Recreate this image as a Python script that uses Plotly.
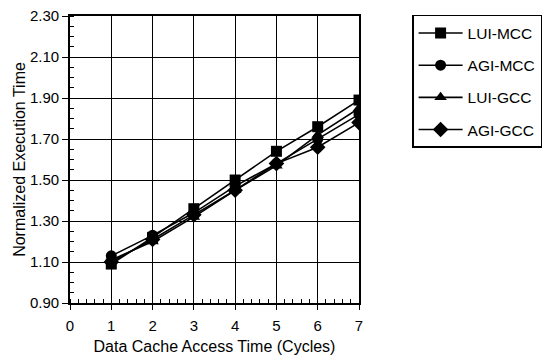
import plotly.graph_objects as go

cycles = [1, 2, 3, 4, 5, 6, 7]
series_names = ["LUI-MCC", "AGI-MCC", "LUI-GCC", "AGI-GCC"]
lui_mcc = [1.09, 1.22, 1.36, 1.50, 1.64, 1.76, 1.89]
agi_mcc = [1.13, 1.23, 1.34, 1.47, 1.58, 1.70, 1.82]
lui_gcc = [1.11, 1.20, 1.32, 1.45, 1.57, 1.72, 1.85]
agi_gcc = [1.10, 1.21, 1.33, 1.45, 1.58, 1.66, 1.78]
series_values = [lui_mcc, agi_mcc, lui_gcc, agi_gcc]
symbols = ["square", "circle", "triangle-up", "diamond"]
y_ticks = [0.90, 1.10, 1.30, 1.50, 1.70, 1.90, 2.10, 2.30]
x_ticks = [0, 1, 2, 3, 4, 5, 6, 7]

FONT = "Liberation Sans, Arial, sans-serif"

fig = go.Figure()
for i, (name, vals, sym) in enumerate(zip(series_names, series_values, symbols)):
    fig.add_trace(go.Scatter(
        x=cycles, y=vals, name=name, mode="lines+markers",
        line=dict(color="black", width=1.6),
        marker=dict(symbol=sym, size=11 if sym != "diamond" else 12, color="black"),
        legendgroup=f"g{i}",
    ))

tick_font = dict(family=FONT, size=15, color="black")
title_font = dict(family=FONT, size=16, color="black")
fig.update_layout(
    width=548, height=357,
    margin=dict(l=70, r=189, t=16, b=54),
    paper_bgcolor="white", plot_bgcolor="white",
    font=tick_font,
    showlegend=True,
    legend=dict(
        xref="container", yref="container",
        x=0.752, y=0.958, xanchor="left", yanchor="top",
        bordercolor="black", borderwidth=1.5,
        font=dict(family=FONT, size=15.5, color="black"),
        traceorder="grouped", tracegroupgap=9,
        itemwidth=44,
    ),
)
fig.update_xaxes(
    range=[0, 7], tickvals=x_ticks, ticktext=[str(v) for v in x_ticks],
    tickfont=tick_font, ticklabelstandoff=3,
    showgrid=True, gridcolor="black", gridwidth=1.3,
    showline=True, linecolor="black", linewidth=1.6, mirror=True,
    ticks="outside", ticklen=5, tickcolor="black", tickwidth=1.3,
    minor=dict(dtick=0.2, ticks="inside", ticklen=4, tickcolor="black", showgrid=False),
    zeroline=False, automargin=False,
    title=dict(text="Data Cache Access Time (Cycles)", font=title_font, standoff=8),
)
fig.update_yaxes(
    range=[0.9, 2.3], tickvals=y_ticks, ticktext=[f"{v:.2f}" for v in y_ticks],
    tickfont=tick_font,
    showgrid=True, gridcolor="black", gridwidth=1.3,
    showline=True, linecolor="black", linewidth=1.6, mirror=True,
    ticks="outside", ticklen=6, tickcolor="black", tickwidth=1.3,
    minor=dict(dtick=0.05, tick0=0.9, ticks="inside", ticklen=4, tickcolor="black", showgrid=False),
    zeroline=False, automargin=False,
    title=dict(text="Normalized Execution Time", font=title_font, standoff=0),
)

fig.write_html("out.html", config={"displayModeBar": False},
               post_script="document.body.style.margin='0';")
